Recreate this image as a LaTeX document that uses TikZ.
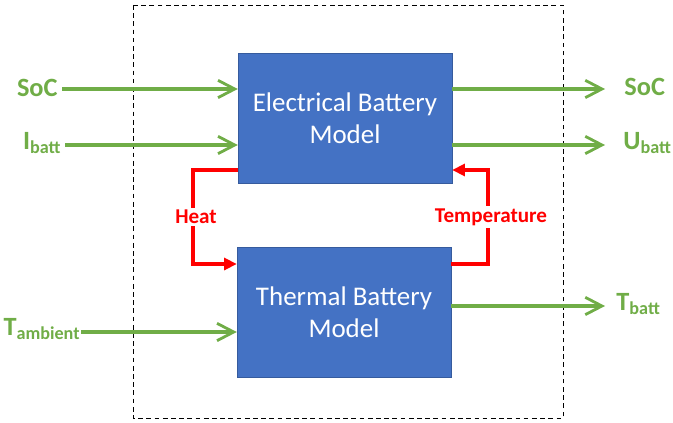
\documentclass[tikz,border=0pt]{standalone}
\usepackage{fontspec}
\setmainfont{Carlito}
\usepackage{tikz}
\usetikzlibrary{positioning, arrows.meta}
\definecolor{BoxBlue}{RGB}{68,114,196}
\definecolor{SigGreen}{RGB}{112,173,71}
\definecolor{LoopRed}{RGB}{255,0,0}
\newcommand{\lowsub}[1]{\raisebox{-0.3ex}{\fontsize{15.5}{15.5}\selectfont #1}}
\tikzset{
  model/.style={draw=BoxBlue!80!black, fill=BoxBlue, minimum width=6.42cm, minimum height=3.9cm,
    align=center, text=white, font=\fontsize{23}{27}\selectfont, inner sep=2pt},
  sig/.style={text=SigGreen, font=\bfseries\fontsize{22.5}{22.5}\selectfont, inner sep=1pt},
  loop/.style={text=LoopRed, font=\bfseries\fontsize{18}{18}\selectfont, inner sep=2pt},
  sigarrow/.style={-{Straight Barb[length=5mm, width=5.2mm, line width=2.4pt]}, line width=2.6pt, SigGreen},
  looparrow/.style={-{Triangle[length=3.8mm, width=3.6mm]}, line width=2.6pt, LoopRed},
}

\begin{document}
\begin{tikzpicture}[x=0.03cm, y=-0.03cm]
  \useasboundingbox (0,0) rectangle (673,423);
  % system border
  \draw[dashed, line width=0.8pt, dash pattern=on 4pt off 3pt] (133,5) rectangle (563,418);
  % models
  \node[model] (elec) at (345,118) {Electrical Battery\\Model};
  \node[model] (therm) at (344,312.5) {Thermal Battery\\Model};
  % inputs
  \node[sig, anchor=east] (socin) at (59,88) {SoC};
  \node[sig, anchor=east] (iin) at (62,143) {I\lowsub{batt}};
  \node[sig, anchor=east] (tin) at (81,329) {T\lowsub{ambient}};
  \draw[sigarrow] (socin.east) ++(3,1) -- (elec.west |- 0,89);
  \draw[sigarrow] (iin.east) ++(3,2) -- (elec.west |- 0,145);
  \draw[sigarrow] (tin.east) ++(0,3) -- (therm.west |- 0,332);
  % outputs
  \node[sig, anchor=west] (socout) at (623,87) {SoC};
  \node[sig, anchor=west] (uout) at (622,143) {U\lowsub{batt}};
  \node[sig, anchor=west] (tout) at (615,304) {T\lowsub{batt}};
  \draw[sigarrow] (elec.east |- 0,89) -- (605,89);
  \draw[sigarrow] (elec.east |- 0,145) -- (605,145);
  \draw[sigarrow] (therm.east |- 0,306) -- (605,306);
  % thermal coupling
  \node[loop] (heat) at (196,217) {Heat};
  \node[loop] (temp) at (491,217) {Temperature};
  \draw[line width=2.6pt, LoopRed] (elec.west |- 0,170) -| (193,0 |- heat.north);
  \draw[looparrow] (193,0 |- heat.south) |- (therm.west |- 0,264);
  \draw[line width=2.6pt, LoopRed] (therm.east |- 0,264) -| (488,0 |- temp.south);
  \draw[looparrow] (488,0 |- temp.north) |- (elec.east |- 0,170);
\end{tikzpicture}
\end{document}
